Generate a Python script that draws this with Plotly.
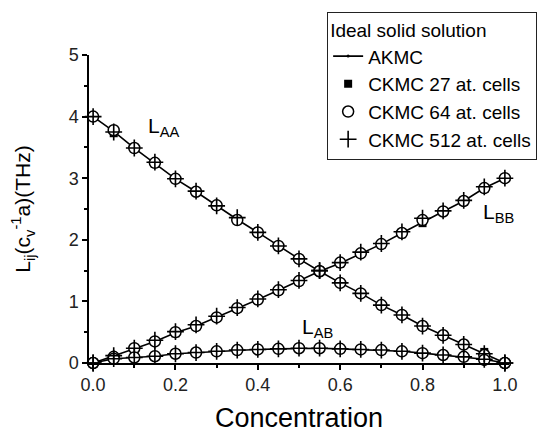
import plotly.graph_objects as go

conc = [0.0, 0.05, 0.1, 0.15, 0.2, 0.25, 0.3, 0.35, 0.4, 0.45, 0.5,
        0.55, 0.6, 0.65, 0.7, 0.75, 0.8, 0.85, 0.9, 0.95, 1.0]

# AKMC
akmc_LAA = [4.00, 3.76, 3.49, 3.24, 2.99, 2.78, 2.55, 2.33, 2.12, 1.90, 1.69,
            1.49, 1.30, 1.13, 0.94, 0.78, 0.60, 0.45, 0.30, 0.16, 0.00]
akmc_LBB = [0.00, 0.11, 0.23, 0.35, 0.49, 0.60, 0.74, 0.89, 1.03, 1.18, 1.33,
            1.49, 1.62, 1.78, 1.93, 2.11, 2.29, 2.46, 2.63, 2.84, 3.00]
akmc_LAB = [0.00, 0.07, 0.09, 0.11, 0.15, 0.17, 0.19, 0.21, 0.22, 0.23, 0.24,
            0.24, 0.23, 0.22, 0.21, 0.19, 0.16, 0.13, 0.10, 0.06, 0.00]

# CKMC 27 at. cells
c27_LAA = [4.00, 3.73, 3.49, 3.23, 2.99, 2.79, 2.55, 2.34, 2.12, 1.90, 1.68,
           1.50, 1.30, 1.13, 0.94, 0.78, 0.60, 0.45, 0.31, 0.18, 0.00]
c27_LBB = [0.00, 0.10, 0.22, 0.34, 0.48, 0.59, 0.73, 0.88, 1.02, 1.17, 1.32,
           1.48, 1.61, 1.77, 1.92, 2.09, 2.27, 2.45, 2.62, 2.83, 3.00]
c27_LAB = [0.00, 0.07, 0.09, 0.11, 0.15, 0.17, 0.19, 0.21, 0.22, 0.23, 0.24,
           0.24, 0.23, 0.22, 0.21, 0.19, 0.16, 0.13, 0.10, 0.07, 0.00]

# CKMC 64 at. cells
c64_LAA = [4.00, 3.78, 3.49, 3.25, 2.99, 2.78, 2.56, 2.32, 2.12, 1.90, 1.69,
           1.49, 1.30, 1.13, 0.94, 0.78, 0.60, 0.45, 0.30, 0.13, 0.00]
c64_LBB = [0.00, 0.10, 0.24, 0.35, 0.50, 0.60, 0.74, 0.89, 1.03, 1.18, 1.33,
           1.49, 1.63, 1.78, 1.93, 2.11, 2.32, 2.46, 2.63, 2.84, 3.00]
c64_LAB = [0.00, 0.07, 0.09, 0.11, 0.15, 0.17, 0.19, 0.21, 0.22, 0.23, 0.24,
           0.24, 0.23, 0.22, 0.21, 0.19, 0.16, 0.13, 0.10, 0.05, 0.00]

# CKMC 512 at. cells
c512_LAA = [4.00, 3.75, 3.49, 3.26, 2.99, 2.79, 2.55, 2.36, 2.12, 1.90, 1.69,
            1.50, 1.30, 1.13, 0.94, 0.78, 0.60, 0.45, 0.30, 0.15, 0.00]
c512_LBB = [0.00, 0.12, 0.24, 0.37, 0.51, 0.62, 0.76, 0.90, 1.04, 1.19, 1.34,
            1.50, 1.63, 1.80, 1.94, 2.13, 2.35, 2.47, 2.64, 2.86, 3.00]
c512_LAB = [0.00, 0.07, 0.09, 0.11, 0.15, 0.17, 0.19, 0.21, 0.22, 0.23, 0.24,
            0.24, 0.23, 0.22, 0.21, 0.19, 0.16, 0.13, 0.10, 0.06, 0.00]

FONT = "Liberation Sans, Arial, sans-serif"


def joined(a, b, c):
    return list(a) + [None] + list(b) + [None] + list(c)


xs = joined(conc, conc, conc)

fig = go.Figure()
fig.add_trace(go.Scatter(
    x=xs, y=joined(akmc_LAA, akmc_LBB, akmc_LAB), mode="lines+markers",
    name="AKMC", line=dict(color="black", width=1.6),
    marker=dict(symbol="circle", size=3, color="black"),
    cliponaxis=False, connectgaps=False))
fig.add_trace(go.Scatter(
    x=xs, y=joined(c27_LAA, c27_LBB, c27_LAB), mode="markers",
    name="CKMC 27 at. cells",
    marker=dict(symbol="square", size=8, color="black"),
    cliponaxis=False))
fig.add_trace(go.Scatter(
    x=xs, y=joined(c64_LAA, c64_LBB, c64_LAB), mode="markers",
    name="CKMC 64 at. cells",
    marker=dict(symbol="circle", size=11, color="white",
                line=dict(width=1.5, color="black")),
    cliponaxis=False))
fig.add_trace(go.Scatter(
    x=xs, y=joined(c512_LAA, c512_LBB, c512_LAB), mode="markers",
    name="CKMC 512 at. cells",
    marker=dict(symbol="cross-thin-open", size=12, color="black",
                line=dict(width=1.6, color="black")),
    cliponaxis=False))

ann_font = dict(family=FONT, size=21, color="black")
fig.add_annotation(x=0.17, y=3.83, text="L<sub>AA</sub>", showarrow=False,
                   font=ann_font)
fig.add_annotation(x=0.985, y=2.44, text="L<sub>BB</sub>", showarrow=False,
                   font=ann_font)
fig.add_annotation(x=0.545, y=0.57, text="L<sub>AB</sub>", showarrow=False,
                   font=ann_font)

fig.update_layout(
    width=550, height=433,
    margin=dict(l=89, r=41, t=52, b=70),
    paper_bgcolor="white", plot_bgcolor="white",
    font=dict(family=FONT, color="black"),
    showlegend=True,
    legend=dict(
        x=0.567, y=1.141, xanchor="left", yanchor="top",
        bgcolor="white", bordercolor="#222", borderwidth=1,
        font=dict(family=FONT, size=19, color="black"),
        title=dict(text="Ideal solid solution",
                   font=dict(family=FONT, size=19, color="black")),
        tracegroupgap=0, itemwidth=30,
    ),
    xaxis=dict(
        range=[-0.01, 1.01], showgrid=False, zeroline=False,
        automargin="left+right",
        showline=True, linecolor="black", linewidth=1.5,
        tickmode="array", tickvals=[0, 0.2, 0.4, 0.6, 0.8, 1.0],
        ticktext=["0.0", "0.2", "0.4", "0.6", "0.8", "1.0"],
        ticks="outside", ticklen=5, tickwidth=1.5, tickcolor="black",
        minor=dict(dtick=0.1, tick0=0, ticks="outside", ticklen=3,
                   tickwidth=1.5, tickcolor="black", showgrid=False),
        tickfont=dict(family=FONT, size=18, color="#222"),
        title=dict(text="Concentration", standoff=18,
                   font=dict(family=FONT, size=27, color="black")),
    ),
    yaxis=dict(
        range=[0, 5], showgrid=False, zeroline=False,
        automargin="top+bottom",
        showline=True, linecolor="black", linewidth=1.5,
        tickmode="array", tickvals=[0, 1, 2, 3, 4, 5],
        ticks="outside", ticklen=5, tickwidth=1.5, tickcolor="black",
        minor=dict(dtick=0.5, tick0=0, ticks="outside", ticklen=3,
                   tickwidth=1.5, tickcolor="black", showgrid=False),
        tickfont=dict(family=FONT, size=18, color="#222"),
        title=dict(text="L<sub>ij</sub>(c<sub>v</sub><sup>-1</sup>a)(THz)",
                   standoff=32,
                   font=dict(family=FONT, size=21, color="black")),
    ),
)

fig.write_html("out.html")
